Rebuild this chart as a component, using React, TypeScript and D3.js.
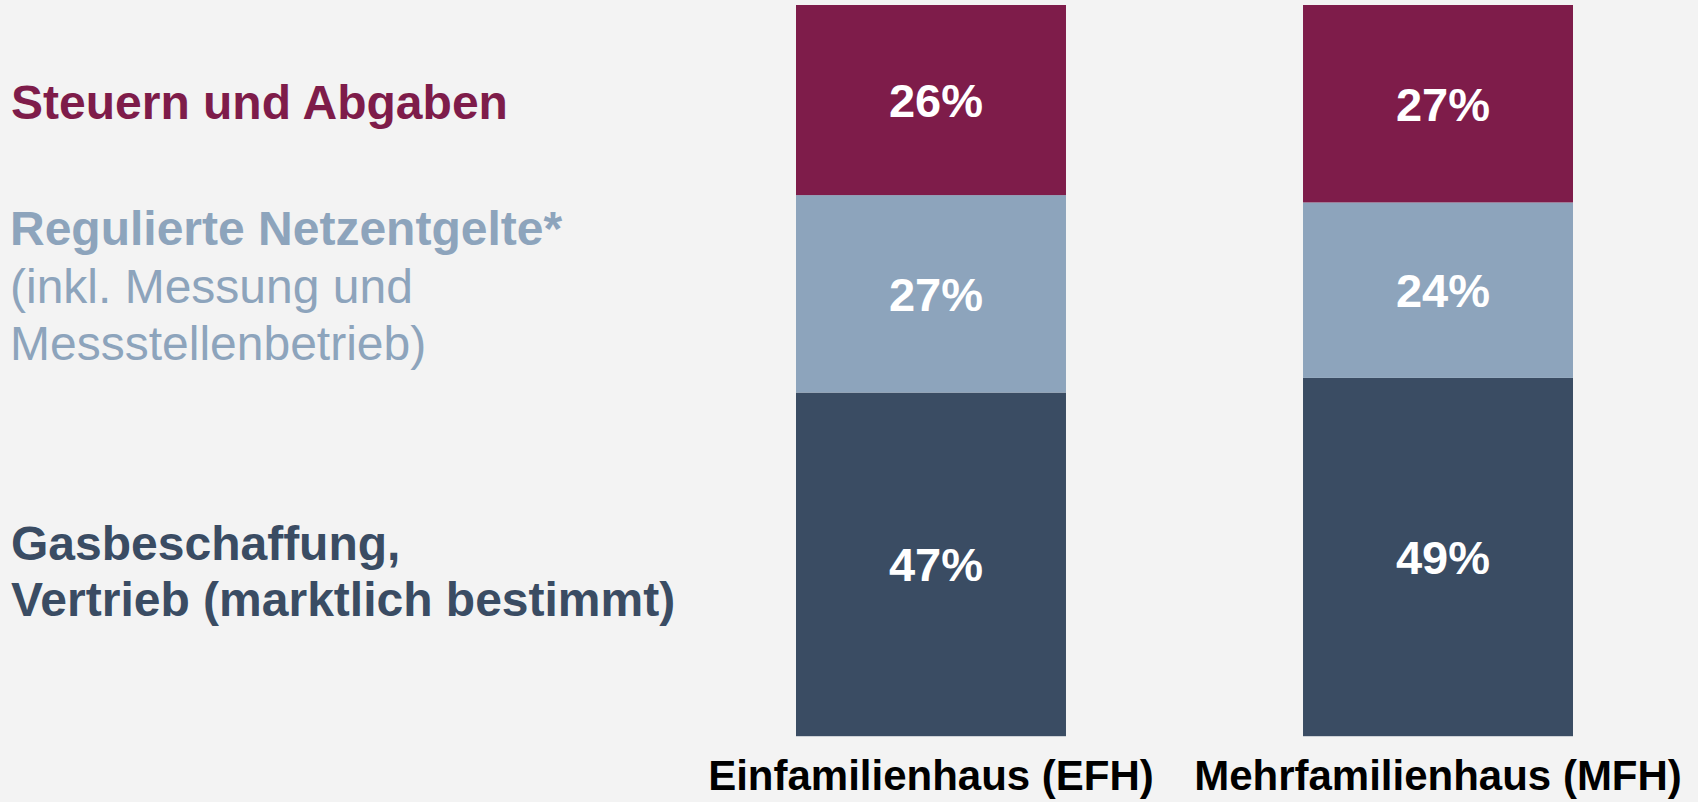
import React from "react";
import * as d3 from "d3";

const categories = ["Einfamilienhaus (EFH)", "Mehrfamilienhaus (MFH)"];
const seriesKeys = ["beschaffung", "netz", "steuern"];
const beschaffung = [47, 49];
const netz = [27, 24];
const steuern = [26, 27];
const seriesColors = ["#3A4C63", "#8DA4BC", "#7E1C4A"];

const legendSteuern = ["Steuern und Abgaben"];
const legendNetz = ["Regulierte Netzentgelte*", "(inkl. Messung und", "Messstellenbetrieb)"];
const legendBeschaffung = ["Gasbeschaffung,", "Vertrieb (marktlich bestimmt)"];

const W = 1698;
const H = 802;
const FONT = "'Liberation Sans', Arial, Helvetica, sans-serif";

export default function App() {
  const rows = categories.map((c, i) => ({
    cat: c,
    beschaffung: beschaffung[i],
    netz: netz[i],
    steuern: steuern[i],
  }));
  const stacked = d3.stack<any>().keys(seriesKeys)(rows);
  const x = d3.scaleBand<string>().domain(categories).range([796, 1573]).paddingInner(0.4675).paddingOuter(0);
  const y = d3.scaleLinear().domain([0, 100]).range([736.2, 5]);
  const bw = x.bandwidth();
  const capHalf = 17;

  return (
    <div style={{ position: "fixed", left: 0, top: 0, width: W, height: H, background: "#F3F3F3" }}>
      <svg width={W} height={H} style={{ display: "block" }}>
        <rect x={0} y={0} width={W} height={H} fill="#F3F3F3" />
        {stacked.map((s, si) => (
          <g key={s.key}>
            {s.map((d, i) => (
              <rect
                key={i}
                x={x(categories[i])}
                y={y(d[1])}
                width={bw}
                height={y(d[0]) - y(d[1])}
                fill={seriesColors[si]}
              />
            ))}
          </g>
        ))}
        {stacked.map((s) => (
          <g key={"l" + s.key}>
            {s.map((d, i) => (
              <text
                key={i}
                x={(x(categories[i]) as number) + bw / 2 + 5}
                y={(y(d[0]) + y(d[1])) / 2 + capHalf}
                textAnchor="middle"
                fill="#FFFFFF"
                fontFamily={FONT}
                fontWeight="bold"
                fontSize={47}
              >
                {`${d[1] - d[0]}%`}
              </text>
            ))}
          </g>
        ))}
        {categories.map((c) => (
          <text
            key={c}
            x={(x(c) as number) + bw / 2}
            y={790}
            textAnchor="middle"
            fill="#000000"
            fontFamily={FONT}
            fontWeight="bold"
            fontSize={42}
          >
            {c}
          </text>
        ))}
        <g fontFamily={FONT} fontSize={48}>
          {legendSteuern.map((t, i) => (
            <text key={t} x={11} y={118.5 + i * 57} fill={seriesColors[2]} fontWeight="bold">
              {t}
            </text>
          ))}
          {legendNetz.map((t, i) => (
            <text
              key={t}
              x={10}
              y={245 + i * 57.5}
              fill={seriesColors[1]}
              fontWeight={i === 0 ? "bold" : "normal"}
            >
              {t}
            </text>
          ))}
          {legendBeschaffung.map((t, i) => (
            <text key={t} x={11} y={559.5 + i * 56} fill={seriesColors[0]} fontWeight="bold">
              {t}
            </text>
          ))}
        </g>
      </svg>
    </div>
  );
}
